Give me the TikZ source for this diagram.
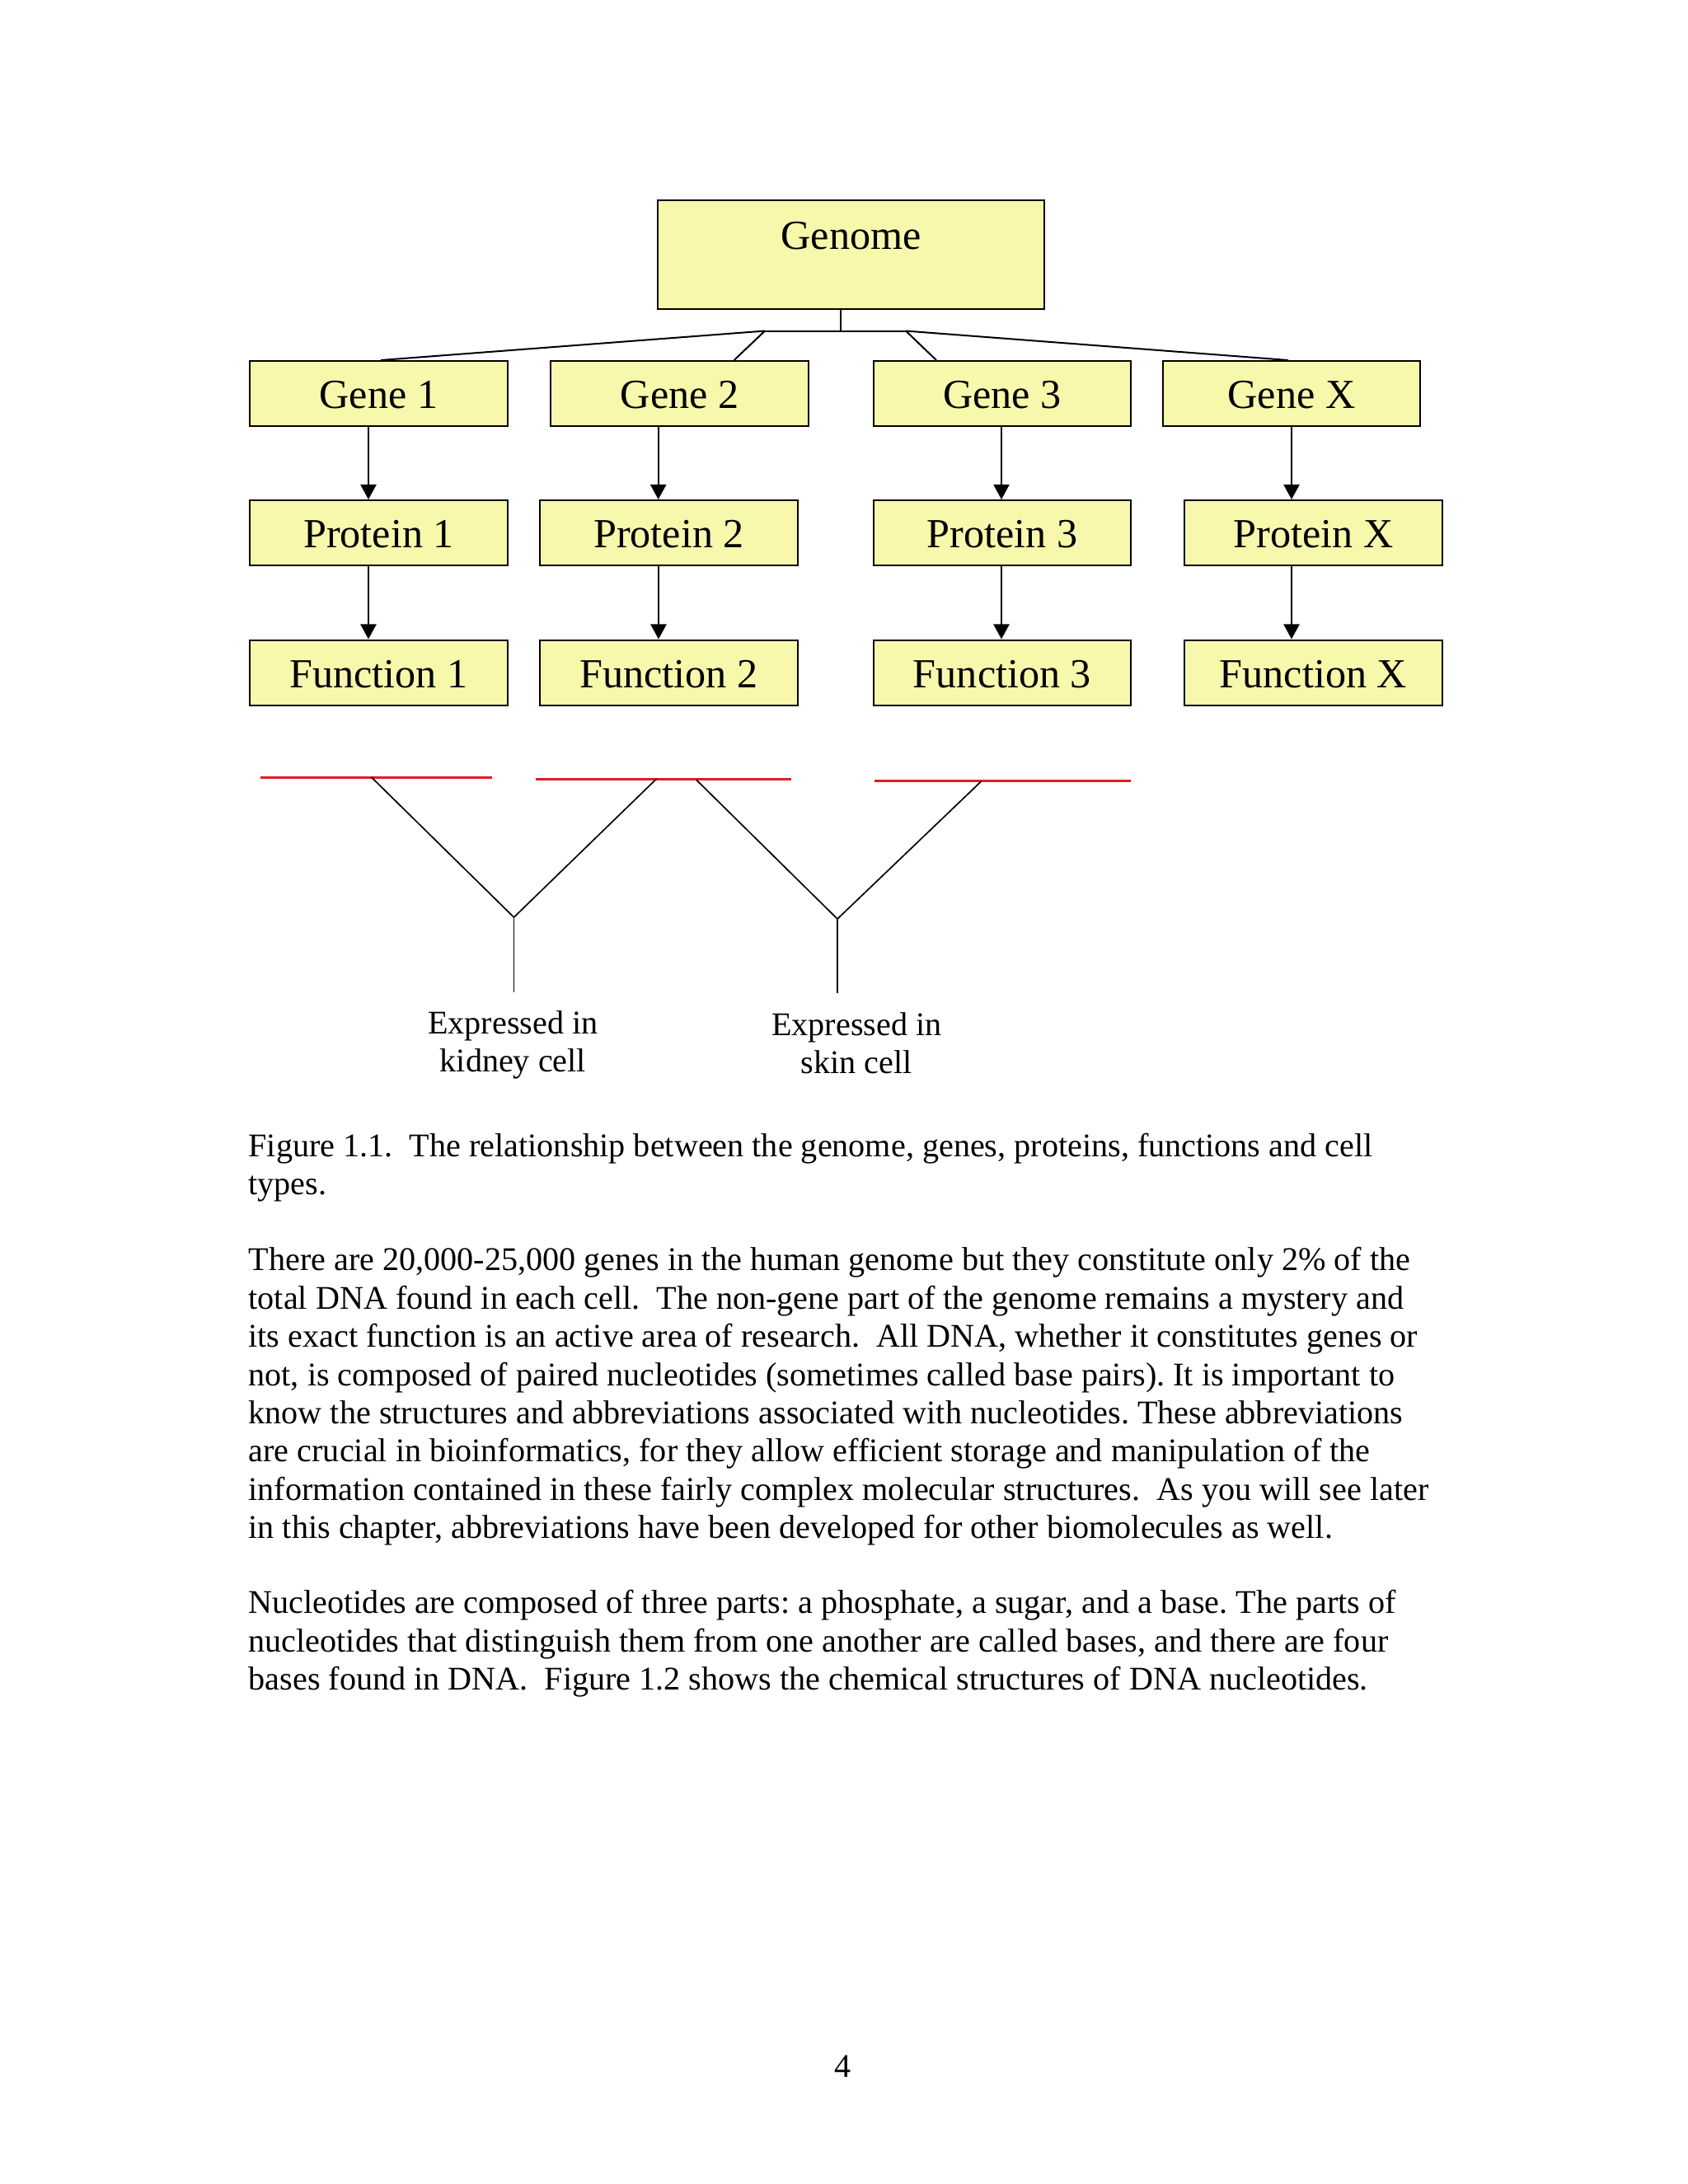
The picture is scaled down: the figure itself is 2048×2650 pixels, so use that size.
\documentclass[tikz,border=0pt]{standalone}
\usepackage{fontspec}
\setmainfont{Liberation Serif}
\usetikzlibrary{arrows.meta,positioning}
\definecolor{boxfill}{RGB}{247,248,172}
\definecolor{cutred}{RGB}{226,28,36}

\begin{document}
\frenchspacing
\begin{tikzpicture}[
x=0.29885pt,
y=-0.29885pt,
box/.style={
  draw,
  fill=boxfill,
  line width=0.6pt,
  minimum width=93.5pt,
  inner xsep=0pt,
  inner ysep=0pt,
  text height=17.3pt,
  text depth=6.3pt,
  font=\fontsize{15}{18}\selectfont
  },
link/.style={
  line width=0.6pt
  },
fork/.style={
  line width=0.5pt
  },
cut/.style={
  draw=cutred,
  line width=0.9pt
  },
para/.style={
  anchor=north west,
  align=left,
  inner sep=0pt,
  font=\fontsize{12}{13.85}\selectfont
  },
cellname/.style={
  anchor=north,
  align=center,
  inner sep=0pt,
  font=\fontsize{12}{13.85}\selectfont
  },
>={Triangle[length=5.4pt,width=5.7pt]}
]
\fill[white] (0,0) rectangle (2048,2650);
\useasboundingbox (0,0) rectangle (2048,2650);

% genome, genes, proteins, functions
\node[box, anchor=north, minimum width=140.2pt, text height=17.8pt, text depth=21.5pt] (genome) at (1032.5,242) {Genome};

\node[box] (gene1) at (459.5,477.5) {Gene 1};
\node[box] (gene2) at (824.7,477.5) {Gene 2};
\node[box] (gene3) at (1216,477.5) {Gene 3};
\node[box] (geneX) at (1567,477.5) {Gene X};

\node[box] (prot1) at (459.5,646.5) {Protein 1};
\node[box] (prot2) at (811.5,646.5) {Protein 2};
\node[box] (prot3) at (1216,646.5) {Protein 3};
\node[box] (protX) at (1593.5,646.5) {Protein X};

\node[box] (func1) at (459.5,816) {Function 1};
\node[box] (func2) at (811.5,816) {Function 2};
\node[box] (func3) at (1216,816) {Function 3};
\node[box] (funcX) at (1593.5,816) {Function X};

% tree under the genome
\draw[link] (genome.south) ++(-12.5,0) -- ++(0,26) coordinate (hub);
\path (hub) ++(-92,0) coordinate (barL) ++(171,0) coordinate (barR);
\draw[link] (barL) -- (barR);
\draw[link] (barL) -- ([xshift=0.7pt]gene1.north);
\draw[link] (barL) -- ([xshift=19.7pt]gene2.north);
\draw[link] (barR) -- ([xshift=-23.9pt]gene3.north);
\draw[link] (barR) -- ([xshift=-1.2pt]geneX.north);

\foreach \g/\dx in {1/-12.5,2/-26,3/-1,X/0}
  \draw[link,->] ([xshift=\dx*0.29885pt]gene\g.south) -- ([xshift=\dx*0.29885pt]gene\g.south |- prot\g.north);
\foreach \g/\dx in {1/-12.5,2/-12.5,3/-1,X/-26.5}
  \draw[link,->] ([xshift=\dx*0.29885pt]prot\g.south) -- ([xshift=\dx*0.29885pt]prot\g.south |- func\g.north);

% cell types
\draw[cut] (316,943) -- (597,943);
\draw[cut] (649.5,945) -- (960,945);
\draw[cut] (1061,947) -- (1372,947);

\coordinate (kidney) at (623.5,1113);
\coordinate (skin) at (1016,1115);
\draw[fork] (450.6,943) -- (kidney) -- (796.5,945);
\draw[fork] (844.6,946) -- (skin) -- (1190.5,948);
\draw[fork] (kidney) -- ++(0,91);
\draw[fork] (skin) -- ++(0,90);

\node[cellname] (kidneylbl) at (622.4,1225.6) {Expressed in\\kidney cell};
\node[cellname] (skinlbl) at (1039.4,1227.6) {Expressed in\\skin cell};

% caption and text
\node[para] (caption) at (301,1374.3) {Figure 1.1.\ \ The relationship between the genome, genes, proteins, functions and cell\\types.};

\node[para] (par1) at (301,1513) {There are 20,000-25,000 genes in the human genome but they constitute only 2\% of the\\
total DNA found in each cell.\ \ The non-gene part of the genome remains a mystery and\\
its exact function is an active area of research.\ \ All DNA, whether it constitutes genes or\\
not, is composed of paired nucleotides (sometimes called base pairs). It is important to\\
know the structures and abbreviations associated with nucleotides. These abbreviations\\
are crucial in bioinformatics, for they allow efficient storage and manipulation of the\\
information contained in these fairly complex molecular structures.\ \ As you will see later\\
in this chapter, abbreviations have been developed for other biomolecules as well.};

\node[para] (par2) at (301,1929) {Nucleotides are composed of three parts: a phosphate, a sugar, and a base. The parts of\\
nucleotides that distinguish them from one another are called bases, and there are four\\
bases found in DNA.\ \ Figure 1.2 shows the chemical structures of DNA nucleotides.};

\node[anchor=base, inner sep=0pt, font=\fontsize{12}{14}\selectfont] (pagenum) at (1023,2520.7) {4};
\end{tikzpicture}
\end{document}
